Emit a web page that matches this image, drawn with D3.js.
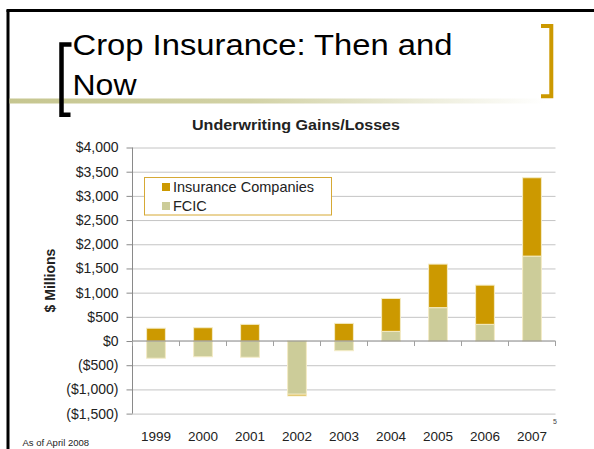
<!DOCTYPE html>
<html>
<head>
<meta charset="utf-8">
<script src="https://cdn.jsdelivr.net/npm/d3@7"></script>
<style>
  body { margin: 0; background: #fff; }
  text { font-family: "Liberation Sans", Arial, sans-serif; }
</style>
</head>
<body>
<div id="chart"></div>
<script>
const years = ["1999", "2000", "2001", "2002", "2003", "2004", "2005", "2006", "2007"];
const fcic = [-355, -325, -335, -1100, -200, 200, 690, 345, 1755];
const insurance = [265, 275, 345, -35, 365, 680, 900, 810, 1620];
const yTicks = [-1500, -1000, -500, 0, 500, 1000, 1500, 2000, 2500, 3000, 3500, 4000];
const seriesNames = ["FCIC", "Insurance Companies"];
const seriesColors = ["#CCCC99", "#CC9900"];

var width = 594,
    height = 449;

const svg = d3.select("#chart")
  .append("svg")
    .attr("width", width)
    .attr("height", height);

// slide frame
svg.append("line").attr("x1", 8).attr("y1", 10).attr("x2", 8).attr("y2", height)
  .attr("stroke", "#000").attr("stroke-width", 3);
svg.append("line").attr("x1", 6.5).attr("y1", 10.5).attr("x2", width).attr("y2", 10.5)
  .attr("stroke", "#000").attr("stroke-width", 3);

// olive rule fading out to the right
const grad = svg.append("defs").append("linearGradient").attr("id", "rule");
grad.append("stop").attr("offset", "0%").attr("stop-color", "#c6c690");
grad.append("stop").attr("offset", "45%").attr("stop-color", "#d2d2a6");
grad.append("stop").attr("offset", "100%").attr("stop-color", "#ffffff");
svg.append("rect").attr("x", 9.5).attr("y", 98.5).attr("width", 536).attr("height", 5)
  .attr("fill", "url(#rule)");

// brackets
svg.append("path")
  .attr("d", "M71.5,44.5 H61.5 V114.8 H70.5")
  .attr("fill", "none").attr("stroke", "#000").attr("stroke-width", 4.5);
svg.append("path")
  .attr("d", "M541,26 H551.3 V96.3 H541")
  .attr("fill", "none").attr("stroke", "#CC9900").attr("stroke-width", 4);

// slide title
svg.append("text").attr("x", 72.5).attr("y", 55)
  .attr("font-size", 30).attr("textLength", 380).attr("lengthAdjust", "spacingAndGlyphs")
  .text("Crop Insurance: Then and");
svg.append("text").attr("x", 72.5).attr("y", 94.5)
  .attr("font-size", 30).attr("textLength", 64).attr("lengthAdjust", "spacingAndGlyphs")
  .text("Now");

// chart title
svg.append("text").attr("x", 296).attr("y", 129.5)
  .attr("text-anchor", "middle").attr("font-size", 15).attr("font-weight", "bold")
  .attr("fill", "#222")
  .attr("textLength", 208).attr("lengthAdjust", "spacingAndGlyphs")
  .text("Underwriting Gains/Losses");

const x = d3.scaleBand()
  .domain(years)
  .range([132.5, 555.5])
  .paddingInner(0.6)
  .paddingOuter(0.3);

const y = d3.scaleLinear()
  .domain([-1500, 4000])
  .range([413.6, 147.5]);

const fmt = v => v < 0 ? "($" + d3.format(",")(-v) + ")" : "$" + d3.format(",")(v);

// gridlines
svg.append("g")
  .attr("transform", "translate(132.5,0)")
  .call(d3.axisLeft(y).tickValues(yTicks.filter(v => v !== 0)).tickSize(-423).tickFormat(""))
  .call(g => g.select(".domain").remove())
  .call(g => g.selectAll("line").attr("stroke", "#c4c4c4"));

// y axis
svg.append("g")
  .attr("transform", "translate(132.5,0)")
  .call(d3.axisLeft(y).tickValues(yTicks).tickSize(6).tickPadding(8).tickFormat(fmt))
  .call(g => g.select(".domain").attr("stroke", "#8a8a8a").attr("d", "M0," + y(-1500) + "V" + y(4000)))
  .call(g => g.selectAll(".tick line").attr("stroke", "#8a8a8a"))
  .call(g => g.selectAll("text").attr("font-size", 14).attr("fill", "#222")
    .attr("font-family", "Liberation Sans, Arial, sans-serif"));

svg.append("text")
  .attr("transform", "translate(54.5," + y(1250) + ") rotate(-90)")
  .attr("text-anchor", "middle").attr("font-size", 14).attr("font-weight", "bold")
  .attr("fill", "#222")
  .text("$ Millions");

// stacked bars
const rows = years.map((yr, i) => ({ year: yr, "FCIC": fcic[i], "Insurance Companies": insurance[i] }));
const stacked = d3.stack()
  .keys(seriesNames)
  .offset(d3.stackOffsetDiverging)(rows);

svg.append("g")
  .selectAll("g")
  .data(stacked)
  .join("g")
    .attr("fill", (d, i) => seriesColors[i])
  .selectAll("rect")
  .data(d => d)
  .join("rect")
    .attr("x", d => x(d.data.year))
    .attr("y", d => y(Math.max(d[0], d[1])))
    .attr("width", x.bandwidth())
    .attr("height", d => Math.abs(y(d[0]) - y(d[1])))
    .attr("stroke", "#f4ecc6")
    .attr("stroke-width", 1);

// zero line with category ticks
const bounds = years.map(d => x(d) - x.step() * 0.3).concat([555.5]);
svg.append("line")
  .attr("x1", 132.5).attr("x2", 555.5).attr("y1", y(0)).attr("y2", y(0))
  .attr("stroke", "#808080");
svg.append("g")
  .selectAll("line")
  .data(bounds)
  .join("line")
    .attr("x1", d => d).attr("x2", d => d)
    .attr("y1", y(0)).attr("y2", y(0) + 5)
    .attr("stroke", "#a0a0a0");

// year labels below the plot
svg.append("g")
  .attr("transform", "translate(0," + y(-1500) + ")")
  .call(d3.axisBottom(x).tickSize(0).tickPadding(18))
  .call(g => g.select(".domain").remove())
  .call(g => g.selectAll("text").attr("font-size", 13.5).attr("fill", "#222")
    .attr("font-family", "Liberation Sans, Arial, sans-serif"));

// legend
const legend = svg.append("g");
legend.append("rect")
  .attr("x", 144.5).attr("y", 177.5).attr("width", 187).attr("height", 37.5)
  .attr("fill", "#fff").attr("stroke", "#d6a935");
const items = seriesNames.slice().reverse();
legend.selectAll("g")
  .data(items)
  .join("g")
    .attr("transform", (d, i) => "translate(162," + (183 + i * 19) + ")")
  .call(g => g.append("rect").attr("width", 8).attr("height", 8)
    .attr("fill", d => seriesColors[seriesNames.indexOf(d)]))
  .call(g => g.append("text").attr("x", 11).attr("y", 9)
    .attr("font-size", 14.5).attr("fill", "#222")
    .text(d => d === "FCIC" ? "FCIC" : d));

// footnotes
svg.append("text").attr("x", 22.5).attr("y", 446)
  .attr("font-size", 9.5).attr("fill", "#222").text("As of April 2008");
svg.append("text").attr("x", 553).attr("y", 423.5)
  .attr("font-size", 7).attr("fill", "#444").text("5");
</script>
</body>
</html>
